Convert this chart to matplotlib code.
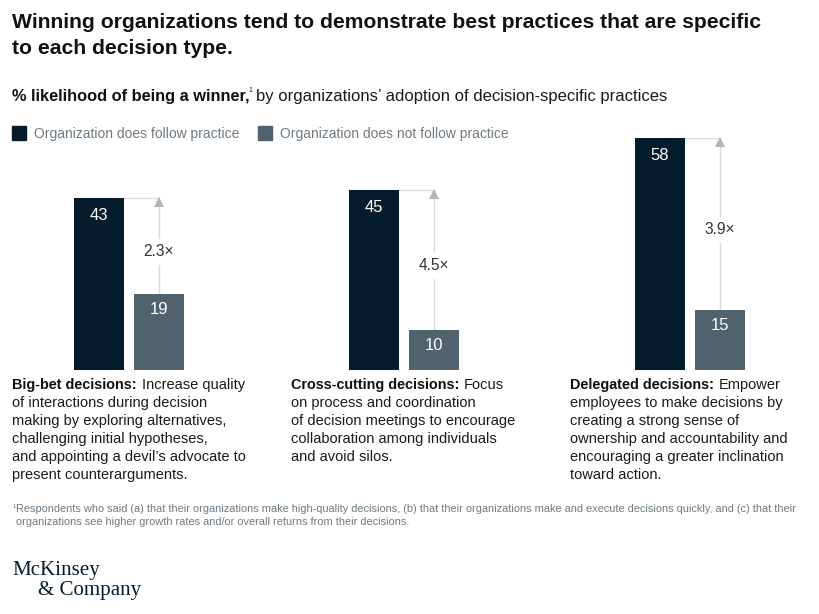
# McKinsey chart: % likelihood of being a winner, by decision type

import matplotlib
matplotlib.use('Agg')
import matplotlib.pyplot as plt
from matplotlib.patches import Rectangle

plt.rcParams['font.family'] = ['Liberation Sans', 'DejaVu Sans']

W, H = 820, 614

categories = ['Big-bet decisions:', 'Cross-cutting decisions:', 'Delegated decisions:']
follow = [43, 45, 58]
not_follow = [19, 10, 15]
multiples = ['2.3×', '4.5×', '3.9×']
legend_labels = ['Organization does follow practice', 'Organization does not follow practice']

first_lines = ['Increase quality', 'Focus', 'Empower']
body_lines = [
    ['of interactions during decision', 'making by exploring alternatives,', 'challenging initial hypotheses,',
     'and appointing a devil\u2019s advocate to', 'present counterarguments.'],
    ['on process and coordination', 'of decision meetings to encourage', 'collaboration among individuals',
     'and avoid silos.'],
    ['employees to make decisions by', 'creating a strong sense of', 'ownership and accountability and',
     'encouraging a greater inclination', 'toward action.'],
]

DARK = '#051c2c'
SLATE = '#51626f'
GREY = '#6f7a82'
INK = '#1a1a1a'

# left edge of the dark bar and of the text block, in pixels
bar_x = [74, 349, 635]
text_x = [12, 291, 570]
lead_x = [142.5, 464, 719]
BAR_W = 50
GAP = 10

fig = plt.figure(figsize=(W / 100, H / 100), dpi=100)


def txt(x, y, s, size=14.6, color=INK, weight='normal', **kw):
    # place text with pixel coordinates measured from the top left
    kw.setdefault('ha', 'left')
    kw.setdefault('va', 'center')
    return fig.text(x / W, 1 - (y + 1) / H, s, fontsize=size * 0.72, color=color, weight=weight, **kw)


ax = fig.add_axes([0, (H - 370) / H, 1, 232 / H])
ax.set_xlim(0, W)
ax.set_ylim(0, 58)
ax.axis('off')

for i in range(3):
    x0 = bar_x[i]
    x1 = x0 + BAR_W + GAP
    mid = x1 + BAR_W / 2
    ax.bar(x0, follow[i], width=BAR_W, align='edge', color=DARK, zorder=3)
    ax.bar(x1, not_follow[i], width=BAR_W, align='edge', color=SLATE, zorder=3)
    ax.text(x0 + BAR_W / 2, follow[i] - 4.4, str(follow[i]), color='white', fontsize=12, ha='center', va='center', zorder=4)
    ax.text(mid, not_follow[i] - 3.9, str(not_follow[i]), color='white', fontsize=12, ha='center', va='center', zorder=4)

    # bracket from top of dark bar down to the lighter bar
    ax.plot([x0 + BAR_W, mid], [follow[i], follow[i]], color='#dcdcdc', lw=1, zorder=1)
    ax.plot([mid, mid], [not_follow[i], follow[i] - 1], color='#d9d9d9', lw=1, zorder=1)
    ax.plot(mid, follow[i] - 1.1, marker='^', ms=7.5, color='#b3b3b3', mew=0, zorder=2, clip_on=False)
    ax.text(mid, (follow[i] + not_follow[i]) / 2 - 1.4, multiples[i], color='#333333', fontsize=11.2,
            ha='center', va='center', zorder=3, bbox=dict(facecolor='white', edgecolor='none', pad=4))

    # description under each pair of bars
    txt(text_x[i], 384, categories[i], size=14.4, weight='bold', color='#111111')
    txt(lead_x[i], 384, first_lines[i])
    for j, line in enumerate(body_lines[i]):
        txt(text_x[i], 402 + 18 * j, line)

# titles
txt(12, 21, 'Winning organizations tend to demonstrate best practices that are specific', size=21.1, weight='bold', color='#111111')
txt(12, 47, 'to each decision type.', size=21.1, weight='bold', color='#111111')
txt(12, 95, '% likelihood of being a winner,', size=16.4, weight='bold', color='#111111')
txt(248, 90, '1', size=7, color=INK)
txt(256, 95, 'by organizations\u2019 adoption of decision-specific practices', size=16.65)

# legend
fig.add_artist(Rectangle((12 / W, 1 - 140 / H), 14 / W, 14 / H, transform=fig.transFigure, color=DARK))
txt(34, 133, legend_labels[0], size=13.9, color=GREY)
fig.add_artist(Rectangle((258 / W, 1 - 140 / H), 14 / W, 14 / H, transform=fig.transFigure, color=SLATE))
txt(280, 133, legend_labels[1], size=13.9, color=GREY)

# footnote
txt(13, 506, '1', size=6, color=GREY)
txt(16, 508, 'Respondents who said (a) that their organizations make high-quality decisions, (b) that their organizations make and execute decisions quickly, and (c) that their',
    size=11.03, color=GREY)
txt(16, 521, 'organizations see higher growth rates and/or overall returns from their decisions.', size=11.03, color=GREY)

# logo
txt(12, 569, 'McKinsey', size=21, color=DARK, family='Liberation Serif')
txt(38, 589, '& Company', size=21, color=DARK, family='Liberation Serif')

fig.savefig('out.png', dpi=100)
